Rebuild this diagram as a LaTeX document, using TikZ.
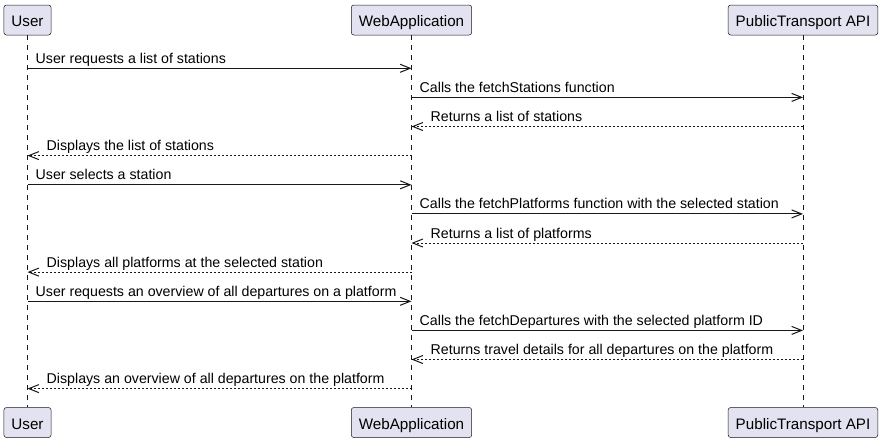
\documentclass[tikz,border=0pt]{standalone}
\usepackage{fontspec}
\setmainfont{Liberation Sans}
\usetikzlibrary{arrows.meta}
\definecolor{lineC}{HTML}{181818}
\definecolor{partFill}{HTML}{E2E2F0}
\begin{document}
\begin{tikzpicture}[x=1pt,y=-1pt,
  part/.style={draw=lineC, line width=0.5pt, fill=partFill, rounded corners=2.5pt,
    minimum height=30pt, inner xsep=7.5pt, inner ysep=0pt, text height=13pt, text depth=0pt,
    font=\fontsize{15.2}{18}\selectfont, text=black},
  lifeline/.style={draw=lineC, line width=0.5pt, dash pattern=on 5pt off 5pt},
  call/.style={draw=lineC, line width=1pt, -{Straight Barb[length=10pt,width=8pt]}},
  reply/.style={call, dash pattern=on 2pt off 2pt},
  msg/.style={inner sep=0pt, font=\fontsize{14.2}{17}\selectfont, text=black},
  rlab/.style={msg, anchor=base west, xshift=8pt, yshift=5pt},
  llab/.style={msg, anchor=base west, xshift=19pt, yshift=5pt}]
\fill[white] (0,0) rectangle (882,442);
\useasboundingbox (0,0) rectangle (882,442);

\node[part] (u) at (27.5,20) {User};
\node[part] (w) at (411.5,20) {WebApplication};
\node[part] (p) at (803,20) {PublicTransport API};
\node[part] (ub) at (27.5,422.5) {User};
\node[part] (wb) at (411.5,422.5) {WebApplication};
\node[part] (pb) at (803,422.5) {PublicTransport API};

\draw[lifeline] (u.south) -- (ub.north);
\draw[lifeline] (w.south) -- (wb.north);
\draw[lifeline] (p.south) -- (pb.north);

\foreach \i/\y in {1/68.3,2/97.4,3/126.5,4/155.6,5/184.8,6/213.9,7/243,8/272.1,9/301.3,10/330.4,11/359.5,12/388.6}
  \coordinate (m\i) at (0,\y);

\draw[call] (u |- m1) -- (w |- m1);
\node[rlab] (l1) at (u |- m1) {User requests a list of stations};
\draw[call] (w |- m2) -- (p |- m2);
\node[rlab] (l2) at (w |- m2) {Calls the fetchStations function};
\draw[reply] (p |- m3) -- (w |- m3);
\node[llab] (l3) at (w |- m3) {Returns a list of stations};
\draw[reply] (w |- m4) -- (u |- m4);
\node[llab] (l4) at (u |- m4) {Displays the list of stations};
\draw[call] (u |- m5) -- (w |- m5);
\node[rlab] (l5) at (u |- m5) {User selects a station};
\draw[call] (w |- m6) -- (p |- m6);
\node[rlab] (l6) at (w |- m6) {Calls the fetchPlatforms function with the selected station};
\draw[reply] (p |- m7) -- (w |- m7);
\node[llab] (l7) at (w |- m7) {Returns a list of platforms};
\draw[reply] (w |- m8) -- (u |- m8);
\node[llab] (l8) at (u |- m8) {Displays all platforms at the selected station};
\draw[call] (u |- m9) -- (w |- m9);
\node[rlab] (l9) at (u |- m9) {User requests an overview of all departures on a platform};
\draw[call] (w |- m10) -- (p |- m10);
\node[rlab] (l10) at (w |- m10) {Calls the fetchDepartures with the selected platform ID};
\draw[reply] (p |- m11) -- (w |- m11);
\node[llab] (l11) at (w |- m11) {Returns travel details for all departures on the platform};
\draw[reply] (w |- m12) -- (u |- m12);
\node[llab] (l12) at (u |- m12) {Displays an overview of all departures on the platform};
\end{tikzpicture}
\end{document}
